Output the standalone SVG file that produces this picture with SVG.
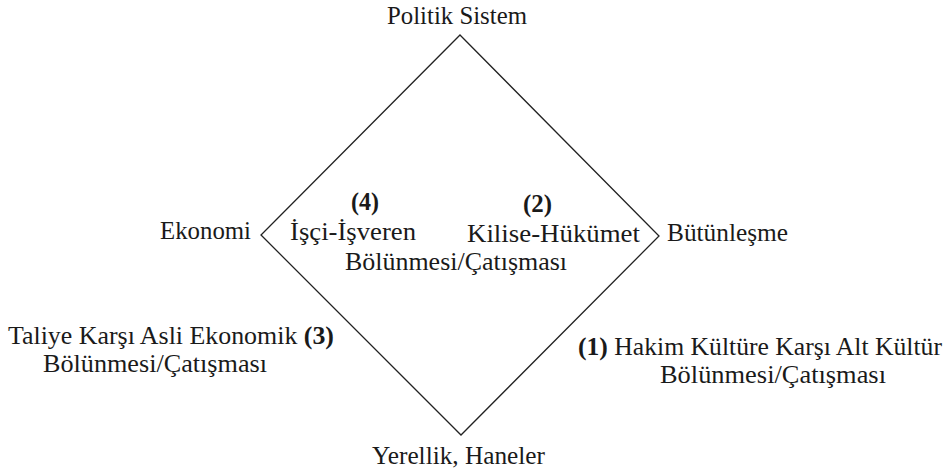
<svg xmlns="http://www.w3.org/2000/svg" width="946" height="474" viewBox="0 0 946 474">
<style>
.t{font-size:24.5px;fill:#1a1a1a}
.b{font-weight:bold}
.edge{fill:none;stroke:#222;stroke-width:1.3}
</style>
<rect width="946" height="474" fill="#fff"/>
<g id="connectors">
<polygon class="edge" points="460,35 659,236 461,435 261,235"/>
</g>
<g id="politik"><text class="t" font-family="Liberation Serif" x="387" y="24" textLength="140" lengthAdjust="spacingAndGlyphs">Politik Sistem</text></g>
<g id="ekonomi"><text class="t" font-family="Liberation Serif" x="160" y="239" textLength="91" lengthAdjust="spacingAndGlyphs">Ekonomi</text></g>
<g id="butunlesme"><text class="t" font-family="Liberation Serif" x="667" y="241" textLength="121" lengthAdjust="spacingAndGlyphs">Bütünleşme</text></g>
<g id="yerellik"><text class="t" font-family="Liberation Serif" x="372" y="464" textLength="173" lengthAdjust="spacingAndGlyphs">Yerellik, Haneler</text></g>
<g id="c4"><text class="t b" font-family="Liberation Serif" x="351" y="210" textLength="28" lengthAdjust="spacingAndGlyphs">(4)</text><text class="t" font-family="Liberation Serif" x="290" y="240" textLength="126" lengthAdjust="spacingAndGlyphs">İşçi-İşveren</text></g>
<g id="c2"><text class="t b" font-family="Liberation Serif" x="523" y="212" textLength="29" lengthAdjust="spacingAndGlyphs">(2)</text><text class="t" font-family="Liberation Serif" x="467" y="242" textLength="173" lengthAdjust="spacingAndGlyphs">Kilise-Hükümet</text><text class="t" font-family="Liberation Serif" x="345" y="270" textLength="222" lengthAdjust="spacingAndGlyphs">Bölünmesi/Çatışması</text></g>
<g id="c3"><text class="t" font-family="Liberation Serif" x="8" y="344" textLength="326" lengthAdjust="spacingAndGlyphs">Taliye Karşı Asli Ekonomik <tspan class="b">(3)</tspan></text><text class="t" font-family="Liberation Serif" x="43" y="372" textLength="224" lengthAdjust="spacingAndGlyphs">Bölünmesi/Çatışması</text></g>
<g id="c1"><text class="t" font-family="Liberation Serif" x="578" y="355" textLength="364" lengthAdjust="spacingAndGlyphs"><tspan class="b">(1)</tspan> Hakim Kültüre Karşı Alt Kültür</text><text class="t" font-family="Liberation Serif" x="660" y="383" textLength="226" lengthAdjust="spacingAndGlyphs">Bölünmesi/Çatışması</text></g>
</svg>
